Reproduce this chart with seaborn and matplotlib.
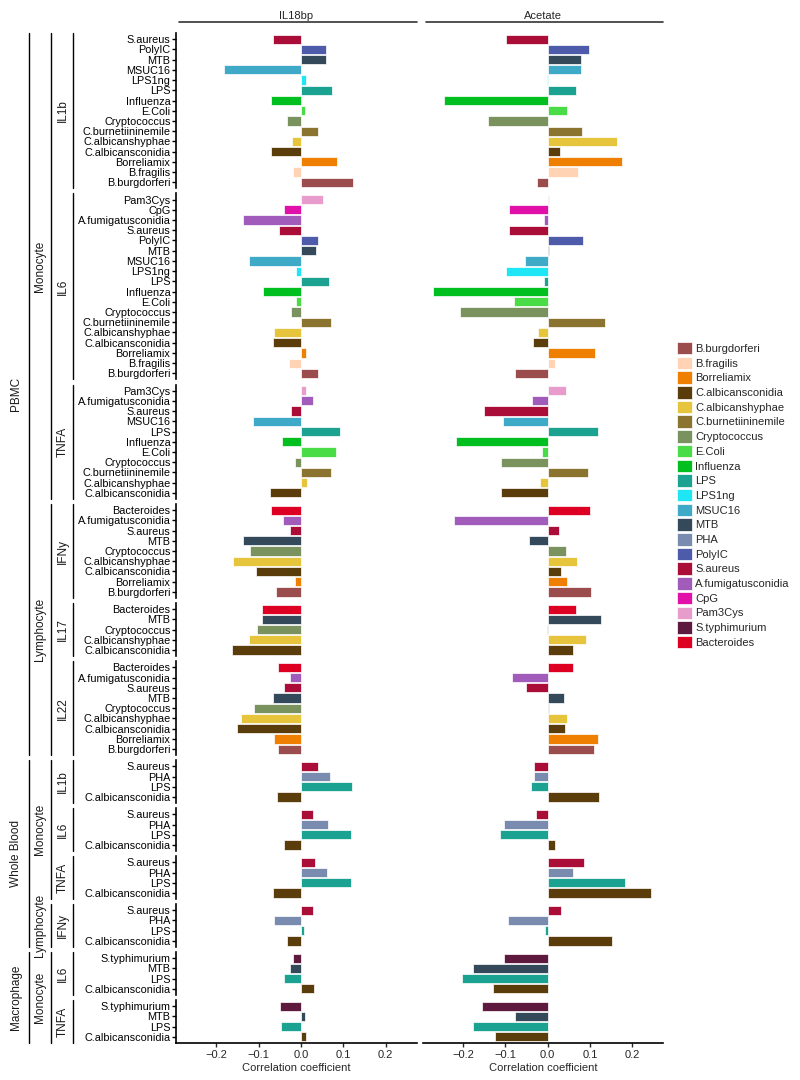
import numpy as np
import pandas as pd
import seaborn as sns
import matplotlib.pyplot as plt
from matplotlib.patches import Patch
from matplotlib.lines import Line2D

# stimulus order (legend order) and colours
stimuli = ["B.burgdorferi", "B.fragilis", "Borreliamix", "C.albicansconidia",
           "C.albicanshyphae", "C.burnetiininemile", "Cryptococcus", "E.Coli",
           "Influenza", "LPS", "LPS1ng", "MSUC16", "MTB", "PHA", "PolyIC",
           "S.aureus", "A.fumigatusconidia", "CpG", "Pam3Cys", "S.typhimurium",
           "Bacteroides"]
colors = ["#9B4D4D", "#FFD3B4", "#EE7F00", "#5B3D0C", "#E6C43C", "#8B7430",
          "#7A925E", "#4ADC46", "#00BF1F", "#1BA290", "#1EE6F5", "#3FAAC8",
          "#34495A", "#7A8BB0", "#4E5AAA", "#AA0E38", "#A05BBB", "#E010A8",
          "#E89CCB", "#5E1A3E", "#DE0022"]

# PBMC / Monocyte / IL1b
pbmc_mono_il1b_stim = ["S.aureus", "PolyIC", "MTB", "MSUC16", "LPS1ng", "LPS", "Influenza",
                       "E.Coli", "Cryptococcus", "C.burnetiininemile", "C.albicanshyphae",
                       "C.albicansconidia", "Borreliamix", "B.fragilis", "B.burgdorferi"]
pbmc_mono_il1b_il18bp = [-0.065, 0.058, 0.058, -0.182, 0.011, 0.074, -0.071, 0.009, -0.033,
                         0.041, -0.021, -0.070, 0.084, -0.018, 0.124]
pbmc_mono_il1b_acetate = [-0.098, 0.097, 0.080, 0.078, -0.002, 0.066, -0.245, 0.045, -0.141,
                          0.082, 0.163, 0.030, 0.176, 0.073, -0.026]

# PBMC / Monocyte / IL6
pbmc_mono_il6_stim = ["Pam3Cys", "CpG", "A.fumigatusconidia", "S.aureus", "PolyIC", "MTB",
                      "MSUC16", "LPS1ng", "LPS", "Influenza", "E.Coli", "Cryptococcus",
                      "C.burnetiininemile", "C.albicanshyphae", "C.albicansconidia",
                      "Borreliamix", "B.fragilis", "B.burgdorferi"]
pbmc_mono_il6_il18bp = [0.053, -0.039, -0.136, -0.053, 0.041, 0.036, -0.122, -0.011, 0.067,
                        -0.089, -0.012, -0.024, 0.072, -0.063, -0.067, 0.011, -0.029, 0.040]
pbmc_mono_il6_acetate = [0.004, -0.091, -0.008, -0.091, 0.084, 0.003, -0.054, -0.099, -0.008,
                         -0.270, -0.080, -0.206, 0.136, -0.023, -0.035, 0.113, 0.018, -0.078]

# PBMC / Monocyte / TNFA
pbmc_mono_tnfa_stim = ["Pam3Cys", "A.fumigatusconidia", "S.aureus", "MSUC16", "LPS",
                       "Influenza", "E.Coli", "Cryptococcus", "C.burnetiininemile",
                       "C.albicanshyphae", "C.albicansconidia"]
pbmc_mono_tnfa_il18bp = [0.013, 0.028, -0.023, -0.114, 0.092, -0.045, 0.082, -0.014, 0.070,
                         0.014, -0.074]
pbmc_mono_tnfa_acetate = [0.044, -0.037, -0.151, -0.106, 0.120, -0.217, -0.013, -0.109,
                          0.096, -0.017, -0.109]

# PBMC / Lymphocyte / IFNy
pbmc_lymph_ifny_stim = ["Bacteroides", "A.fumigatusconidia", "S.aureus", "MTB", "Cryptococcus",
                        "C.albicanshyphae", "C.albicansconidia", "Borreliamix", "B.burgdorferi"]
pbmc_lymph_ifny_il18bp = [-0.070, -0.042, -0.026, -0.138, -0.120, -0.161, -0.107, -0.014, -0.060]
pbmc_lymph_ifny_acetate = [0.100, -0.220, 0.027, -0.043, 0.044, 0.070, 0.031, 0.045, 0.103]

# PBMC / Lymphocyte / IL17
pbmc_lymph_il17_stim = ["Bacteroides", "MTB", "Cryptococcus", "C.albicanshyphae",
                        "C.albicansconidia"]
pbmc_lymph_il17_il18bp = [-0.093, -0.092, -0.103, -0.122, -0.162]
pbmc_lymph_il17_acetate = [0.067, 0.125, -0.002, 0.091, 0.060]

# PBMC / Lymphocyte / IL22
pbmc_lymph_il22_stim = ["Bacteroides", "A.fumigatusconidia", "S.aureus", "MTB", "Cryptococcus",
                        "C.albicanshyphae", "C.albicansconidia", "Borreliamix", "B.burgdorferi"]
pbmc_lymph_il22_il18bp = [-0.054, -0.026, -0.041, -0.065, -0.110, -0.142, -0.150, -0.064, -0.055]
pbmc_lymph_il22_acetate = [0.059, -0.084, -0.052, 0.038, 0.004, 0.046, 0.042, 0.120, 0.109]

# Whole Blood
wb_stim = ["S.aureus", "PHA", "LPS", "C.albicansconidia"]
wb_mono_il1b_il18bp = [0.040, 0.069, 0.120, -0.057]
wb_mono_il1b_acetate = [-0.032, -0.032, -0.040, 0.122]
wb_mono_il6_il18bp = [0.029, 0.063, 0.119, -0.041]
wb_mono_il6_acetate = [-0.027, -0.102, -0.112, 0.018]
wb_mono_tnfa_il18bp = [0.033, 0.062, 0.117, -0.065]
wb_mono_tnfa_acetate = [0.087, 0.059, 0.182, 0.244]
wb_lymph_ifny_il18bp = [0.029, -0.064, 0.008, -0.032]
wb_lymph_ifny_acetate = [0.031, -0.093, -0.005, 0.152]

# Macrophage
mac_stim = ["S.typhimurium", "MTB", "LPS", "C.albicansconidia"]
mac_mono_il6_il18bp = [-0.018, -0.025, -0.041, 0.031]
mac_mono_il6_acetate = [-0.103, -0.175, -0.203, -0.128]
mac_mono_tnfa_il18bp = [-0.050, 0.009, -0.046, 0.013]
mac_mono_tnfa_acetate = [-0.154, -0.076, -0.175, -0.123]

facets = [
    ("PBMC", "Monocyte", "IL1b", pbmc_mono_il1b_stim, pbmc_mono_il1b_il18bp, pbmc_mono_il1b_acetate),
    ("PBMC", "Monocyte", "IL6", pbmc_mono_il6_stim, pbmc_mono_il6_il18bp, pbmc_mono_il6_acetate),
    ("PBMC", "Monocyte", "TNFA", pbmc_mono_tnfa_stim, pbmc_mono_tnfa_il18bp, pbmc_mono_tnfa_acetate),
    ("PBMC", "Lymphocyte", "IFNy", pbmc_lymph_ifny_stim, pbmc_lymph_ifny_il18bp, pbmc_lymph_ifny_acetate),
    ("PBMC", "Lymphocyte", "IL17", pbmc_lymph_il17_stim, pbmc_lymph_il17_il18bp, pbmc_lymph_il17_acetate),
    ("PBMC", "Lymphocyte", "IL22", pbmc_lymph_il22_stim, pbmc_lymph_il22_il18bp, pbmc_lymph_il22_acetate),
    ("Whole Blood", "Monocyte", "IL1b", wb_stim, wb_mono_il1b_il18bp, wb_mono_il1b_acetate),
    ("Whole Blood", "Monocyte", "IL6", wb_stim, wb_mono_il6_il18bp, wb_mono_il6_acetate),
    ("Whole Blood", "Monocyte", "TNFA", wb_stim, wb_mono_tnfa_il18bp, wb_mono_tnfa_acetate),
    ("Whole Blood", "Lymphocyte", "IFNy", wb_stim, wb_lymph_ifny_il18bp, wb_lymph_ifny_acetate),
    ("Macrophage", "Monocyte", "IL6", mac_stim, mac_mono_il6_il18bp, mac_mono_il6_acetate),
    ("Macrophage", "Monocyte", "TNFA", mac_stim, mac_mono_tnfa_il18bp, mac_mono_tnfa_acetate),
]
treatments = ["IL18bp", "Acetate"]

rows = []
for i, (sample, cell, cyto, stim, v1, v2) in enumerate(facets):
    for s, a, b in zip(stim, v1, v2):
        rows.append({"facet": i, "stimulus": s, "treatment": "IL18bp", "value": a})
        rows.append({"facet": i, "stimulus": s, "treatment": "Acetate", "value": b})
df = pd.DataFrame(rows)

palette = dict(zip(stimuli, colors))

sns.set_theme(style="white")
plt.rcParams['font.family'] = ['Liberation Sans', 'DejaVu Sans']

fig = plt.figure(figsize=(8, 10.8), dpi=100)
gs = fig.add_gridspec(len(facets), 2,
                      height_ratios=[len(f[3]) + 0.2 for f in facets],
                      left=0.22, right=0.829, top=0.9694, bottom=0.0343,
                      hspace=0.063, wspace=0.025)

axes = []
for i, f in enumerate(facets):
    stim = f[3]
    row_axes = []
    for j, t in enumerate(treatments):
        ax = fig.add_subplot(gs[i, j])
        sub = df[(df.facet == i) & (df.treatment == t)]
        sns.barplot(data=sub, x="value", y="stimulus", hue="stimulus", order=stim,
                    palette=palette, dodge=False, width=0.9, saturation=1,
                    edgecolor="white", linewidth=0.5, legend=False, ax=ax)
        ax.set_ylim(len(stim) - 0.4, -0.6)
        ax.set_xlim(-0.295, 0.273)
        ax.set_xlabel("")
        ax.set_ylabel("")
        for sp in ["top", "right"]:
            ax.spines[sp].set_visible(False)
        last = i == len(facets) - 1
        ax.spines["bottom"].set_visible(last)
        ax.spines["bottom"].set_color("black")
        ax.spines["bottom"].set_linewidth(1.2)
        if last:
            ax.set_xticks([-0.2, -0.1, 0.0, 0.1, 0.2])
            ax.tick_params(axis="x", length=3, width=1, labelsize=8, pad=2, bottom=True)
            ax.set_xlabel("Correlation coefficient", fontsize=8, labelpad=2)
        else:
            ax.set_xticks([])
        if j == 0:
            ax.spines["left"].set_color("black")
            ax.spines["left"].set_linewidth(1.2)
            ax.tick_params(axis="y", length=3, width=1, labelsize=7.8, pad=1,
                           left=True, colors="black")
        else:
            ax.spines["left"].set_visible(False)
            ax.set_yticks([])
        row_axes.append(ax)
    axes.append(row_axes)

# column headers
for j, t in enumerate(treatments):
    pos = axes[0][j].get_position()
    fig.text((pos.x0 + pos.x1) / 2, 1 - 16 / 1080, t, ha="center", va="center", fontsize=8)
    fig.add_artist(Line2D([pos.x0 + 0.004, pos.x1], [1 - 22 / 1080] * 2,
                          color="#333333", lw=1.2))


def strip(x_line, x_text, i0, i1, label):
    top = axes[i0][0].get_position().y1
    bot = axes[i1][0].get_position().y0
    fig.add_artist(Line2D([x_line, x_line], [bot, top], color="black", lw=1.0))
    fig.text(x_text, (top + bot) / 2, label, rotation=90, ha="center", va="center",
             fontsize=8.5, color="#1a1a1a")


def groups(key):
    out = []
    start = 0
    for i in range(1, len(facets) + 1):
        if i == len(facets) or key(facets[i]) != key(facets[start]):
            out.append((start, i - 1))
            start = i
    return out


for a, b in groups(lambda f: f[0]):
    strip(29 / 800, 16 / 800, a, b, facets[a][0])
for a, b in groups(lambda f: (f[0], f[1])):
    strip(51 / 800, 40 / 800, a, b, facets[a][1])
for a, b in groups(lambda f: (f[0], f[1], f[2])):
    strip(73 / 800, 63 / 800, a, b, facets[a][2])

handles = [Patch(facecolor=palette[s], edgecolor="white", linewidth=0.5) for s in stimuli]
fig.legend(handles, stimuli, loc="upper left", bbox_to_anchor=(677 / 800, 1 - 342 / 1080),
           frameon=False, fontsize=8, handlelength=1.35, handleheight=1.35,
           labelspacing=0.2, handletextpad=0.3, borderaxespad=0, borderpad=0)

fig.savefig("out.png", dpi=100)
